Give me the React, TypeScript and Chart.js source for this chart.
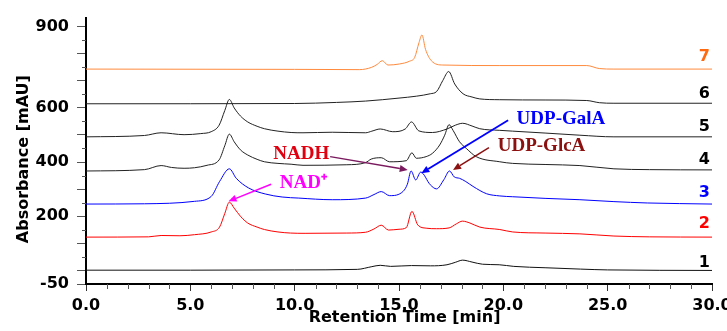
import React, { useEffect, useRef } from "react";
import { Chart, registerables } from "chart.js";

Chart.register(...registerables);

// ---- data (retention time [min], absorbance [mAU]) ----
const trace1: [number, number][] = [
  [0, 1], [5, 1], [10, 2], [13.0, 4], [13.7, 14], [14.1, 19], [14.6, 15], [15.6, 18], [16.5, 17],
  [17.3, 21], [17.7, 30], [18.05, 38], [18.5, 31], [19.0, 23], [19.8, 21], [20.5, 15], [22, 10],
  [23.7, 5], [25, 2], [30, 0],
];
const trace2: [number, number][] = [
  [0, 123], [3.0, 124], [3.6, 129], [4.5, 128], [5.2, 132], [6.0, 142], [6.4, 160], [6.65, 210],
  [6.87, 252], [7.1, 230], [7.4, 200], [7.75, 175], [8.2, 160], [8.55, 151], [9.2, 142], [9.8, 138],
  [10.5, 137], [12.5, 138], [13.4, 141], [13.8, 153], [14.15, 167], [14.5, 149], [15.0, 152],
  [15.35, 158], [15.62, 218], [15.9, 168], [16.3, 156], [16.8, 154], [17.4, 157], [17.75, 172],
  [18.04, 182], [18.4, 175], [18.87, 160], [19.83, 151], [20.45, 142], [22, 138], [23.67, 135],
  [25.3, 127], [27, 124], [30, 123],
];
const trace3: [number, number][] = [
  [0, 245], [2.8, 246], [5.2, 255], [6.0, 273], [6.4, 328], [6.87, 375], [7.2, 340], [7.8, 304],
  [8.6, 282], [9.4, 271], [10.2, 267], [11.8, 261], [13.4, 267], [13.8, 280], [14.15, 291],
  [14.55, 276], [15.2, 292], [15.4, 318], [15.58, 367], [15.8, 334], [16.04, 363], [16.5, 316],
  [16.8, 301], [17.15, 335], [17.42, 367], [17.65, 345], [17.9, 340], [18.2, 328], [18.55, 310],
  [19.2, 283], [19.83, 275], [20.45, 272], [22, 266], [23.67, 261], [25.3, 254], [26.9, 249],
  [30, 245],
];
const trace4: [number, number][] = [
  [0, 367], [2.8, 372], [3.6, 387], [4.1, 380], [4.7, 377], [5.2, 379], [5.8, 388], [6.38, 408],
  [6.65, 460], [6.87, 503], [7.1, 475], [7.4, 445], [7.75, 426], [8.2, 410], [8.55, 401], [9.2, 395],
  [9.83, 392], [10.4, 388], [12.5, 390], [13.4, 398], [13.67, 411], [14.15, 416], [14.55, 401],
  [15.35, 405], [15.62, 434], [15.83, 414], [16.3, 420], [16.6, 432], [16.95, 463], [17.19, 499],
  [17.4, 538], [17.59, 517], [17.9, 475], [18.23, 450], [18.7, 420], [19.83, 401], [20.45, 395],
  [22, 391], [23.67, 387], [25.3, 375], [27, 372], [30, 371],
];
const trace5: [number, number][] = [
  [0, 493], [2.8, 498], [3.6, 508], [4.7, 501], [5.5, 505], [6.0, 512], [6.38, 536], [6.65, 590],
  [6.87, 631], [7.1, 600], [7.4, 570], [7.75, 548], [8.2, 532], [8.55, 523], [9.2, 514], [9.83, 509],
  [10.4, 508], [11.8, 510], [13.4, 508], [13.7, 514], [14.1, 522], [14.7, 512], [15.3, 522],
  [15.6, 548], [15.95, 515], [16.6, 509], [17.3, 522], [17.7, 536], [18.05, 543], [18.5, 533],
  [18.87, 523], [19.83, 517], [20.45, 514], [22, 507], [23.67, 499], [25.3, 493], [30, 493],
];
const trace6: [number, number][] = [
  [0, 615], [10, 616], [12, 620], [13.4, 625], [15, 636], [15.83, 643], [16.5, 652], [16.8, 660],
  [17.1, 701], [17.38, 734], [17.67, 688], [18.07, 652], [18.5, 640], [18.87, 633], [19.83, 630],
  [22, 629], [24.0, 627], [24.6, 619], [25.3, 617], [30, 617],
];
const trace7: [number, number][] = [
  [0, 743], [10, 742], [13.1, 741], [13.67, 749], [13.95, 760], [14.2, 774], [14.47, 758],
  [15.03, 762], [15.5, 772], [15.75, 786], [15.96, 841], [16.1, 869], [16.27, 816], [16.55, 774],
  [17.1, 758], [19.83, 756], [24.0, 756], [24.6, 745], [25.3, 743], [30, 743],
];

const traces = [trace1, trace2, trace3, trace4, trace5, trace6, trace7];
const traceNames = ["1", "2", "3", "4", "5", "6", "7"];
const traceColors = ["#111111", "#ff0000", "#0000ff", "#222222", "#222222", "#222222", "#ff8a3d"];
const traceLabelColors = ["#000000", "#ff0000", "#0000ff", "#000000", "#000000", "#000000", "#ff6a10"];
const traceLabelLevels = [29, 171, 288, 409, 530, 652, 790];

const yMajorTicks = [-50, 0, 100, 200, 300, 400, 500, 600, 700, 800, 900];
const yLabelled = [-50, 200, 400, 600, 900];
const yMinorTicks = [50, 150, 250, 350, 450, 550, 650, 750, 850];
const xMajorTicks = [0, 5, 10, 15, 20, 25, 30];
const xMinorTicks = [1, 2, 3, 4, 6, 7, 8, 9, 11, 12, 13, 14, 16, 17, 18, 19, 21, 22, 23, 24, 26, 27, 28, 29];

type Note = {
  text: string;
  color: string;
  arrowColor: string;
  at: [number, number];
  from: [number, number];
  to: [number, number];
  width: number;
};
const notes: Note[] = [
  { text: "NADH", color: "#e00010", arrowColor: "#7a1a5e", at: [10.32, 429], from: [11.7, 420], to: [15.42, 371], width: 1.5 },
  { text: "NAD\u207A", color: "#ff00ff", arrowColor: "#ff00ff", at: [10.42, 324], from: [8.87, 318], to: [6.83, 255], width: 1.5 },
  { text: "UDP-GalA", color: "#0000ff", arrowColor: "#0000ff", at: [22.76, 559], from: [20.23, 554], to: [16.07, 359], width: 1.8 },
  { text: "UDP-GlcA", color: "#8b1010", arrowColor: "#8b1010", at: [21.83, 460], from: [19.31, 453], to: [17.59, 371], width: 1.5 },
];

const tickFont = { family: "DejaVu Sans", weight: "bold" as const, size: 16 };

const overlayPlugin = {
  id: "overlay",
  afterDraw(chart: any) {
    const { ctx, scales } = chart;
    const x = scales.x;
    const y = scales.y;
    ctx.save();
    // minor ticks
    ctx.strokeStyle = "#555";
    ctx.lineWidth = 1;
    yMinorTicks.forEach((v) => {
      const py = Math.round(y.getPixelForValue(v)) + 0.5;
      ctx.beginPath();
      ctx.moveTo(y.right - 4, py);
      ctx.lineTo(y.right, py);
      ctx.stroke();
    });
    xMinorTicks.forEach((t) => {
      const px = Math.round(x.getPixelForValue(t)) + 0.5;
      ctx.beginPath();
      ctx.moveTo(px, x.top);
      ctx.lineTo(px, x.top + 5);
      ctx.stroke();
    });
    // trace labels
    ctx.font = "bold 16px 'DejaVu Sans'";
    ctx.textAlign = "right";
    ctx.textBaseline = "middle";
    traceNames.forEach((n, i) => {
      ctx.fillStyle = traceLabelColors[i];
      ctx.fillText(n, x.getPixelForValue(29.9), y.getPixelForValue(traceLabelLevels[i]));
    });
    // annotations
    notes.forEach((nt) => {
      const x1 = x.getPixelForValue(nt.from[0]);
      const y1 = y.getPixelForValue(nt.from[1]);
      const x2 = x.getPixelForValue(nt.to[0]);
      const y2 = y.getPixelForValue(nt.to[1]);
      const ang = Math.atan2(y2 - y1, x2 - x1);
      const hl = 8;
      const hw = 3.5;
      const bx = x2 - hl * Math.cos(ang);
      const by = y2 - hl * Math.sin(ang);
      ctx.strokeStyle = nt.arrowColor;
      ctx.fillStyle = nt.arrowColor;
      ctx.lineWidth = nt.width;
      ctx.beginPath();
      ctx.moveTo(x1, y1);
      ctx.lineTo(bx, by);
      ctx.stroke();
      ctx.beginPath();
      ctx.moveTo(x2, y2);
      ctx.lineTo(bx + hw * Math.sin(ang), by - hw * Math.cos(ang));
      ctx.lineTo(bx - hw * Math.sin(ang), by + hw * Math.cos(ang));
      ctx.closePath();
      ctx.fill();
      ctx.font = "bold 19px 'Liberation Serif'";
      ctx.textAlign = "center";
      ctx.textBaseline = "middle";
      ctx.fillStyle = nt.color;
      ctx.fillText(nt.text, x.getPixelForValue(nt.at[0]), y.getPixelForValue(nt.at[1]));
    });
    ctx.restore();
  },
};

export default function App() {
  const ref = useRef<HTMLCanvasElement | null>(null);
  useEffect(() => {
    if (!ref.current) return;
    const chart = new Chart(ref.current, {
      type: "line",
      data: {
        datasets: traces.map((tr, i) => ({
          label: traceNames[i],
          data: tr.map(([t, v]) => ({ x: t, y: v })),
          borderColor: traceColors[i],
          borderWidth: 1,
          pointRadius: 0,
          fill: false,
          cubicInterpolationMode: "monotone" as const,
        })),
      },
      options: {
        animation: false,
        responsive: true,
        maintainAspectRatio: false,
        layout: { padding: { top: 15, left: 0, right: 0, bottom: 0 } },
        plugins: { legend: { display: false }, tooltip: { enabled: false } },
        scales: {
          x: {
            type: "linear",
            min: 0,
            max: 30,
            afterBuildTicks: (s: any) => {
              s.ticks = xMajorTicks.map((v) => ({ value: v }));
            },
            afterFit: (s: any) => {
              s.height = 47;
              s.paddingRight = 15;
            },
            ticks: {
              autoSkip: false,
              maxRotation: 0,
              padding: 5,
              color: "#000",
              font: tickFont,
              callback: (v: any) => Number(v).toFixed(1),
            },
            grid: { drawOnChartArea: false, tickLength: 7, tickColor: "#333", tickWidth: 1 },
            border: { color: "#000", width: 2 },
            title: {
              display: true,
              text: "  Retention Time [min]",
              color: "#000",
              font: tickFont,
              padding: { top: 0, bottom: 4 },
            },
          },
          y: {
            type: "linear",
            min: -50,
            max: 933,
            afterBuildTicks: (s: any) => {
              s.ticks = yMajorTicks.map((v) => ({ value: v }));
            },
            afterFit: (s: any) => {
              s.width = 86;
            },
            ticks: {
              autoSkip: false,
              padding: 8,
              color: "#000",
              font: tickFont,
              callback: (v: any) => (yLabelled.includes(Number(v)) ? String(v) : ""),
            },
            grid: { drawOnChartArea: false, tickLength: 9, tickColor: "#555", tickWidth: 1 },
            border: { color: "#000", width: 2 },
            title: {
              display: true,
              text: "Absorbance [mAU]   ",
              color: "#000",
              font: tickFont,
              padding: { top: 14, bottom: 0 },
            },
          },
        },
      },
      plugins: [overlayPlugin],
    });
    return () => chart.destroy();
  }, []);
  return (
    <div style={{ position: "absolute", left: 0, top: 0, width: 727, height: 331, background: "#fff" }}>
      <canvas ref={ref} />
    </div>
  );
}
